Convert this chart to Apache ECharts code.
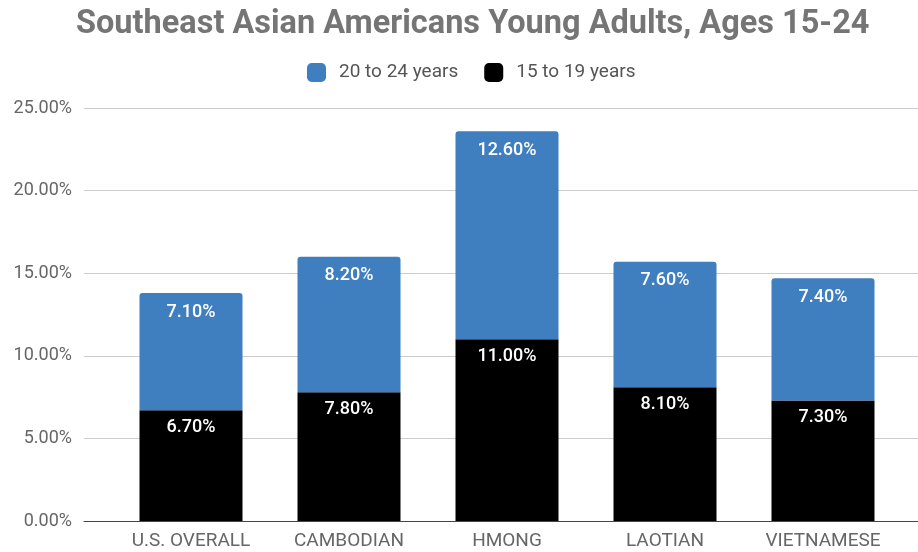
<!DOCTYPE html>
<html>
<head>
<meta charset="utf-8">
<script src="https://cdn.jsdelivr.net/npm/echarts@6/dist/echarts.min.js"></script>
<style>
  html, body { margin: 0; padding: 0; background: #fff; }
  #chart { width: 918px; height: 552px; }
</style>
</head>
<body>
<div id="chart"></div>
<script>
const categories = ["U.S. OVERALL", "CAMBODIAN", "HMONG", "LAOTIAN", "VIETNAMESE"];
const ages15to19 = [6.7, 7.8, 11.0, 8.1, 7.3];
const ages20to24 = [7.1, 8.2, 12.6, 7.6, 7.4];
const yTicks = { min: 0, max: 25, interval: 5 };

const pct = (v) => v.toFixed(2) + "%";
const font = "Roboto, 'Noto Sans', sans-serif";

const barLabel = (distance) => ({
  show: true,
  position: "insideTop",
  distance,
  color: "#fff",
  fontSize: 18,
  fontWeight: 500,
  fontFamily: font,
  formatter: (p) => pct(p.value),
});

const chart = echarts.init(document.getElementById("chart"));
chart.setOption({
  animation: false,
  textStyle: { fontFamily: font },
  title: {
    text: "Southeast Asian Americans Young Adults, Ages 15-24",
    left: 71,
    top: 3,
    textStyle: { fontFamily: font, fontSize: 32.5, fontWeight: "bold", color: "#757575" },
  },
  legend: {
    left: 302,
    top: 58,
    itemWidth: 19,
    itemHeight: 19,
    itemGap: 26,
    icon: "roundRect",
    data: ["20 to 24 years", "15 to 19 years"],
    textStyle: { fontFamily: font, fontSize: 19, color: "#555", padding: [0, 0, 0, 8] },
  },
  grid: [
    { left: 84, right: 0, top: 108, bottom: 31 },
    { left: 112, right: 16, top: 108, bottom: 31 },
  ],
  xAxis: [
    {
      gridIndex: 0,
      type: "value",
      min: 0,
      max: 1,
      axisLine: { show: true, lineStyle: { color: "#444", width: 1 } },
      axisTick: { show: false },
      axisLabel: { show: false },
      splitLine: { show: false },
    },
    {
      gridIndex: 1,
      type: "category",
      data: categories,
      axisLine: { show: false },
      axisTick: { show: false },
      axisLabel: { color: "#666", fontSize: 19, margin: 11, fontFamily: font },
    },
  ],
  yAxis: [
    {
      gridIndex: 0,
      type: "value",
      ...yTicks,
      axisLine: { show: false },
      axisTick: { show: false },
      axisLabel: { color: "#666", fontSize: 18, margin: 12, formatter: pct, fontFamily: font },
      splitLine: { lineStyle: { color: "#ccc", width: 1 } },
    },
    {
      gridIndex: 1,
      type: "value",
      ...yTicks,
      show: false,
    },
  ],
  series: [
    {
      name: "15 to 19 years",
      type: "bar",
      xAxisIndex: 1,
      yAxisIndex: 1,
      stack: "age",
      barWidth: 103,
      data: ages15to19,
      itemStyle: { color: "#000" },
      label: barLabel(8),
    },
    {
      name: "20 to 24 years",
      type: "bar",
      xAxisIndex: 1,
      yAxisIndex: 1,
      stack: "age",
      barWidth: 103,
      data: ages20to24,
      itemStyle: { color: "#3f7ebf", borderRadius: [3, 3, 0, 0] },
      label: barLabel(10),
    },
  ],
});
</script>
</body>
</html>
